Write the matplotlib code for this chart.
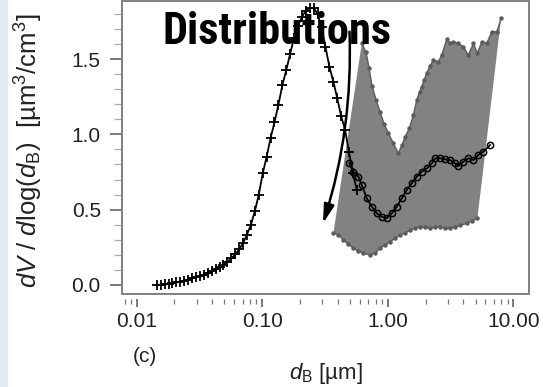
import matplotlib
matplotlib.use("Agg")
import matplotlib.pyplot as plt
from matplotlib.patches import Rectangle, FancyArrowPatch
from matplotlib.ticker import FixedLocator, MultipleLocator, LogLocator, NullFormatter

plt.rcParams['font.family'] = ['Liberation Sans', 'DejaVu Sans']
plt.rcParams['mathtext.fontset'] = 'custom'
plt.rcParams['mathtext.rm'] = 'Liberation Sans'
plt.rcParams['mathtext.it'] = 'Liberation Sans:italic'

# mobility-sizer channels (+ markers)
smps_d = [0.01445, 0.01553, 0.01669, 0.01794, 0.01928, 0.02071, 0.02226, 0.02392,
          0.02570, 0.02762, 0.02968, 0.03190, 0.03428, 0.03683, 0.03958, 0.04254,
          0.04571, 0.04912, 0.05279, 0.05673, 0.06096, 0.06551, 0.07040, 0.07565,
          0.08129, 0.08736, 0.09388, 0.1009, 0.1084, 0.1165, 0.1252, 0.1345,
          0.1446, 0.1553, 0.1669, 0.1794, 0.1928, 0.2072, 0.2226, 0.2392,
          0.2571, 0.2762, 0.2968, 0.3190, 0.3428, 0.3684, 0.3959, 0.4254,
          0.4571, 0.4912, 0.5279, 0.5673]
smps_v = [0.000, 0.002, 0.005, 0.008, 0.012, 0.017, 0.022, 0.028,
          0.036, 0.043, 0.052, 0.060, 0.069, 0.080, 0.092, 0.105,
          0.119, 0.135, 0.154, 0.176, 0.203, 0.236, 0.279, 0.335,
          0.400, 0.490, 0.600, 0.740, 0.850, 0.975, 1.080, 1.195,
          1.325, 1.425, 1.535, 1.640, 1.720, 1.780, 1.820, 1.840,
          1.838, 1.800, 1.710, 1.580, 1.450, 1.350, 1.240, 1.120,
          1.030, 0.880, 0.740, 0.630]

# aerodynamic channels (o markers)
aps_d = [0.4943, 0.5321, 0.5834, 0.6209, 0.6808, 0.7464, 0.8166, 0.8954, 0.9817, 1.076,
         1.180, 1.294, 1.416, 1.552, 1.702, 1.866, 2.046, 2.244, 2.382, 2.612,
         2.864, 3.133, 3.436, 3.656, 4.000, 4.385, 4.808, 5.272, 5.781, 6.531]
aps_v = [0.808, 0.752, 0.719, 0.664, 0.575, 0.520, 0.476, 0.453, 0.443, 0.476,
         0.520, 0.575, 0.630, 0.675, 0.719, 0.752, 0.774, 0.808, 0.841, 0.841,
         0.834, 0.829, 0.808, 0.790, 0.818, 0.841, 0.829, 0.863, 0.885, 0.929]

# shaded range
upper_d = [0.6209, 0.6714, 0.7096, 0.7499, 0.8072, 0.8690, 0.9354, 1.012, 1.109, 1.213,
           1.300, 1.374, 1.486, 1.600, 1.702, 1.791, 1.866, 1.945, 2.046, 2.173,
           2.307, 2.529, 2.692, 2.951, 3.133, 3.334, 3.656, 4.000, 4.385, 4.808,
           5.176, 5.610, 6.152, 6.745, 7.396, 7.998]
upper_v = [1.604, 1.546, 1.440, 1.320, 1.228, 1.148, 1.068, 1.007, 0.940, 0.874,
           0.929, 0.984, 1.040, 1.128, 1.228, 1.281, 1.316, 1.360, 1.407, 1.453,
           1.493, 1.482, 1.526, 1.630, 1.604, 1.614, 1.604, 1.581, 1.526, 1.604,
           1.537, 1.614, 1.604, 1.681, 1.681, 1.770]
lower_d = [0.3690, 0.4018, 0.4426, 0.4831, 0.5321, 0.5794, 0.6397, 0.7228, 0.7925, 0.8690,
           0.9506, 1.042, 1.143, 1.253, 1.374, 1.507, 1.652, 1.811, 1.982, 2.173,
           2.382, 2.612, 2.864, 3.133, 3.436, 3.767, 4.256, 4.699, 5.176]
lower_v = [0.343, 0.335, 0.299, 0.272, 0.244, 0.226, 0.210, 0.199, 0.212, 0.244,
           0.265, 0.287, 0.309, 0.332, 0.345, 0.365, 0.375, 0.387, 0.382, 0.376,
           0.385, 0.387, 0.375, 0.376, 0.385, 0.395, 0.409, 0.425, 0.443]

arrow_start = (0.495, 1.70)
arrow_end = (0.300, 0.391)

xticks = [0.01, 0.1, 1, 10]
xticklabels = ["0.01", "0.10", "1.00", "10.00"]
yticks = [0.0, 0.5, 1.0, 1.5]
yticklabels = ["0.0", "0.5", "1.0", "1.5"]

fig = plt.figure(figsize=(5.43, 3.87), dpi=100)
fig.patches.append(Rectangle((0, 0), 7 / 543, 1, transform=fig.transFigure,
                             color='#e4eaee', zorder=-5))
ax = fig.add_axes([0.2252, 0.2395, 0.7495, 0.7579])

# band
ax.fill(upper_d + lower_d[::-1], upper_v + lower_v[::-1], color='#828282', lw=0, zorder=1)
ax.plot(upper_d, upper_v, color='#5c5c5c', lw=1.0, marker='o', ms=2.2, zorder=2)
ax.plot(lower_d, lower_v, color='#5c5c5c', lw=1.0, marker='o', ms=2.2, zorder=2)

# size distributions
ax.plot(smps_d, smps_v, color='black', lw=1.3, marker='+', ms=7, mew=1.3, zorder=4)
ax.plot(aps_d, aps_v, color='black', lw=1.3, marker='o', ms=4.5, mfc='none',
        mec='black', mew=1.1, zorder=4)

ax.add_patch(FancyArrowPatch(arrow_start, arrow_end, connectionstyle='arc3,rad=-0.09',
                             arrowstyle='-|>,head_length=0.8,head_width=0.22',
                             mutation_scale=14, color='black', lw=1.8, zorder=5))

ax.set_xscale('log')
ax.set_xlim(0.00768, 13.4)
ax.set_ylim(-0.062, 1.885)

ax.xaxis.set_major_locator(FixedLocator(xticks))
ax.set_xticklabels(xticklabels)
ax.xaxis.set_minor_locator(LogLocator(base=10, subs=range(2, 10)))
ax.xaxis.set_minor_formatter(NullFormatter())
ax.set_yticks(yticks)
ax.set_yticklabels(yticklabels)
ax.yaxis.set_minor_locator(MultipleLocator(0.1))

for s in ax.spines.values():
    s.set_visible(False)
ax.spines['bottom'].set_position(('outward', 3.5))
ax.add_patch(Rectangle((0, 0), 1, 1, transform=ax.transAxes, fill=False,
                       ec='#808080', lw=1.4, clip_on=False, zorder=6))

ax.tick_params(axis='x', which='major', length=6, width=1.1, color='#555555',
               labelsize=15, labelcolor='#222222', pad=3)
ax.tick_params(axis='x', which='minor', length=3.5, width=0.9, color='#777777')
ax.tick_params(axis='y', which='major', length=8.5, width=1.1, color='#555555',
               labelsize=15, labelcolor='#222222', pad=7)
ax.tick_params(axis='y', which='minor', length=5.5, width=0.9, color='#aaaaaa')

ax.set_ylabel(r'$dV$ / $d$log($d_\mathrm{B}$)  [µm$^3$/cm$^3$]', fontsize=18.5,
              color='#222222')
ax.yaxis.set_label_coords(-0.19, 0.49)
ax.set_xlabel(r'$d_\mathrm{B}$ [µm]', fontsize=16, color='#222222', va='top')
ax.xaxis.set_label_coords(0.5, -0.226)

fig.text(145 / 543, 1 - 356 / 387, '(c)', fontsize=15, color='#222222',
         ha='center', va='center')
fig.text(277 / 543, 1 - 32 / 387, 'Distributions', fontsize=32, fontweight='black',
         fontstretch='condensed',
         family=['Roboto Condensed', 'Liberation Sans Narrow', 'Roboto', 'Liberation Sans'],
         color='black', ha='center', va='center', zorder=10)

fig.savefig('out.png', dpi=100)
